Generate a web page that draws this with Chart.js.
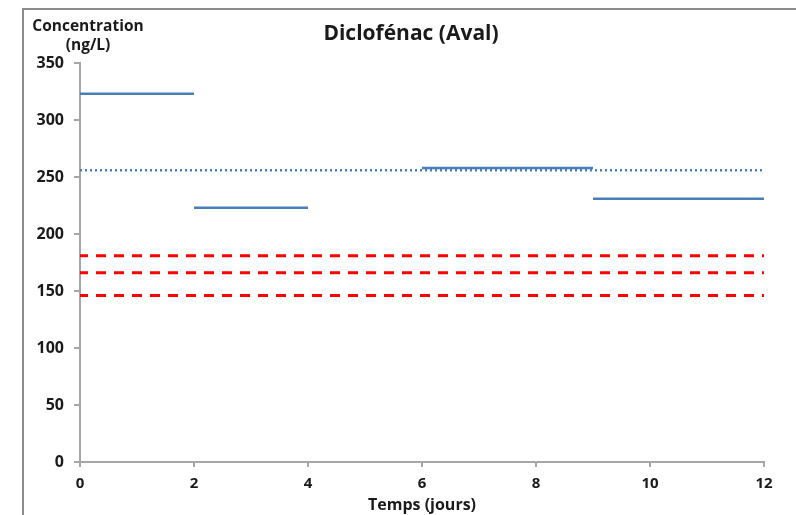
<!DOCTYPE html>
<html lang="fr">
<head>
<meta charset="utf-8">
<title>Diclofénac (Aval)</title>
<script src="https://cdn.jsdelivr.net/npm/chart.js@4/dist/chart.umd.min.js"></script>
<style>
    html, body { margin: 0; padding: 0; background: #ffffff; overflow: hidden; }
    #wrap { position: relative; width: 796px; height: 515px; }
    #frame {
        position: absolute; left: 22px; top: 8px; width: 800px; height: 540px;
        border-left: 2px solid #8c8c8c; border-top: 2px solid #8c8c8c;
        box-sizing: border-box; pointer-events: none;
    }
    canvas { position: absolute; left: 0; top: 0; }
</style>
</head>
<body>
<div id="wrap">
    <div id="frame"></div>
    <canvas id="chart" width="796" height="515"></canvas>
</div>
<script>
// Paliers de concentration mesures (debut, fin en jours, valeur en ng/L)
const segmentStarts = [0, 2, 6, 9];
const segmentEnds = [2, 4, 9, 12];
const segmentValues = [323, 223, 258, 231];

// Moyenne (pointilles bleus) et seuils (tirets rouges)
const meanValue = 256;
const thresholdValues = [181, 166, 146];

const xTicks = [0, 2, 4, 6, 8, 10, 12];
const yTicks = [0, 50, 100, 150, 200, 250, 300, 350];

const BLUE = '#4a7ebb';
const RED = '#ff0000';
const AXIS_GREY = '#a6a6a6';
const FONT = '"Open Sans", Lato, sans-serif';

const datasets = [];

thresholdValues.forEach(value => {
    datasets.push({
        data: [{ x: 0, y: value }, { x: 12, y: value }],
        borderColor: RED,
        borderWidth: 3,
        borderDash: [10, 8],
        borderDashOffset: 2
    });
});

datasets.push({
    data: [{ x: 0, y: meanValue }, { x: 12, y: meanValue }],
    borderColor: BLUE,
    borderWidth: 2.5,
    borderDash: [2, 3]
});

segmentValues.forEach((value, i) => {
    datasets.push({
        data: [{ x: segmentStarts[i], y: value }, { x: segmentEnds[i], y: value }],
        borderColor: BLUE,
        borderWidth: 2.5
    });
});

const textPlugin = {
    id: 'chartTexts',
    afterDraw(chart) {
        const ctx = chart.ctx;
        ctx.save();
        ctx.fillStyle = '#1a1a1a';
        ctx.textBaseline = 'middle';
        ctx.textAlign = 'center';
        ctx.font = `bold 21px ${FONT}`;
        ctx.fillText('Diclofénac (Aval)', 411, 34);
        ctx.font = `bold 15.5px ${FONT}`;
        ctx.fillText('Concentration', 88, 27);
        ctx.fillText('(ng/L)', 88, 46);
        ctx.font = `bold 16px ${FONT}`;
        ctx.fillText('Temps (jours)', 422, 505);
        ctx.restore();
    }
};

new Chart(document.getElementById('chart'), {
    type: 'scatter',
    data: { datasets: datasets.map(ds => ({ ...ds, showLine: true, pointRadius: 0, pointHoverRadius: 0, fill: false })) },
    options: {
        responsive: false,
        animation: false,
        events: [],
        layout: { padding: { left: 0, top: 63, right: 32, bottom: 0 } },
        plugins: {
            legend: { display: false },
            tooltip: { enabled: false },
            title: { display: false }
        },
        scales: {
            x: {
                type: 'linear',
                min: 0,
                max: 12,
                afterFit: scale => { scale.height = 53; },
                afterBuildTicks: scale => { scale.ticks = xTicks.map(v => ({ value: v })); },
                border: { color: AXIS_GREY, width: 2 },
                grid: { drawOnChartArea: false, color: AXIS_GREY, tickLength: 5, lineWidth: 2 },
                ticks: { color: '#1a1a1a', padding: 8, font: { family: FONT, size: 15, weight: 'bold' } }
            },
            y: {
                min: 0,
                max: 350,
                afterFit: scale => { scale.width = 80; },
                afterBuildTicks: scale => { scale.ticks = yTicks.map(v => ({ value: v })); },
                border: { color: AXIS_GREY, width: 2 },
                grid: { drawOnChartArea: false, color: AXIS_GREY, tickLength: 6, lineWidth: 2 },
                ticks: { color: '#1a1a1a', padding: 10, font: { family: FONT, size: 16, weight: 'bold' } }
            }
        }
    },
    plugins: [textPlugin]
});
</script>
</body>
</html>
